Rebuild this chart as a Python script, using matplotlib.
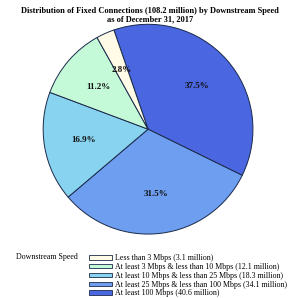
import matplotlib.pyplot as plt
from matplotlib.patches import Patch

plt.rcParams['font.family'] = 'Liberation Serif'

labels = ['At least 100 Mbps (40.6 million)',
          'At least 25 Mbps & less than 100 Mbps (34.1 million)',
          'At least 10 Mbps & less than 25 Mbps (18.3 million)',
          'At least 3 Mbps & less than 10 Mbps (12.1 million)',
          'Less than 3 Mbps (3.1 million)']
shares = [37.5, 31.5, 16.9, 11.2, 2.8]
colors = ['#4a66e0', '#6e9ef0', '#88d4f0', '#c4fad8', '#fffbe6']

fig = plt.figure(figsize=(3.0, 2.98), dpi=100)
fig.text(0.5, 0.978, 'Distribution of Fixed Connections (108.2 million) by Downstream Speed\nas of December 31, 2017',
         ha='center', va='top', fontsize=6.0, fontweight='bold', linespacing=1.15)

ax = fig.add_axes([0.14, 0.211, 0.707, 0.711])
wedges, texts, autotexts = ax.pie(shares, colors=colors, startangle=109, counterclock=False,
                                  autopct='%.1f%%', pctdistance=0.62,
                                  wedgeprops=dict(edgecolor='#1a2a4a', linewidth=0.7))
for t in autotexts:
    t.set_fontsize(6.5)
    t.set_fontweight('bold')
    t.set_color('#111111')
ax.set_xlim(-1.01, 1.01)
ax.set_ylim(-1.01, 1.01)
ax.set_aspect('equal')

# legend, listed smallest first
handles = [Patch(facecolor=c, edgecolor='#1a2a4a', linewidth=0.6) for c in colors[::-1]]
fig.legend(handles, labels[::-1], loc='upper left', bbox_to_anchor=(0.285, 0.16),
           frameon=False, fontsize=5.65, handlelength=2.9, handleheight=0.45,
           labelspacing=0.1, handletextpad=0.35, borderpad=0)
fig.text(0.055, 0.138, 'Downstream Speed', fontsize=5.65, va='center')

fig.savefig('out.png', dpi=100)
